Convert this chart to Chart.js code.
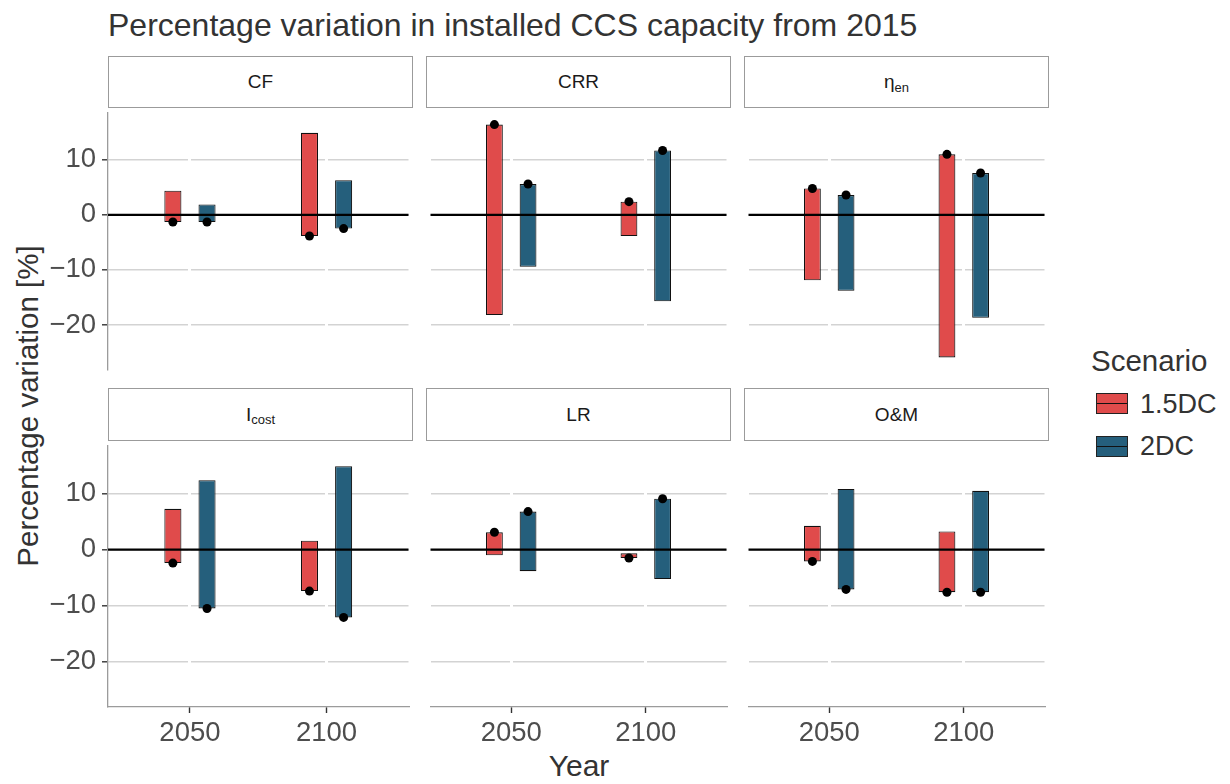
<!DOCTYPE html>
<html>
<head>
<meta charset="utf-8">
<script src="https://cdn.jsdelivr.net/npm/chart.js@4.4.1/dist/chart.umd.min.js"></script>
<style>
  html, body { margin: 0; padding: 0; background: #ffffff; }
  body { font-family: "Liberation Sans", Arial, sans-serif; }
  #wrap { position: relative; width: 1230px; height: 784px; overflow: hidden; background: #ffffff; }
  .txt { position: absolute; line-height: 1; white-space: nowrap; }
  .strip { position: absolute; box-sizing: border-box; border: 1.3px solid #9b9b9b; background: #fff;
           display: flex; align-items: center; justify-content: center; font-size: 19px; color: #1a1a1a; }
  .strip .sb { font-size: 13px; position: relative; top: 5px; }
  canvas { position: absolute; }
  .key { position: absolute; box-sizing: border-box; border: 1.3px solid #222; }
  .key::after { content: ""; position: absolute; left: 0; right: 0; top: 50%; height: 1.5px; margin-top: -0.75px; background: #111; }
</style>
</head>
<body>
<div id="wrap"></div>
<script>
// ---------------- data ----------------
const years = ['2050', '2100'];
const scenarios = ['1.5DC', '2DC'];
const facetNames = ['CF', 'CRR', 'η<span class="sb">en</span>', 'I<span class="sb">cost</span>', 'LR', 'O&amp;M'];
// [facet][year] lower / upper end of the bar
const low15  = [[-1.3, -3.85], [-18.2, -3.85], [-11.9, -25.9], [-2.4, -7.4], [-1.0, -1.5], [-2.1, -7.6]];
const high15 = [[4.4, 14.9],   [16.4, 2.4],    [4.8, 11.0],    [7.3, 1.6],   [3.1, -0.65], [4.25, 3.25]];
const low2   = [[-1.3, -2.5],  [-9.45, -15.7], [-13.8, -18.7], [-10.5, -12.1], [-3.85, -5.25], [-7.1, -7.6]];
const high2  = [[1.9, 6.3],    [5.6, 11.7],    [3.6, 7.6],     [12.4, 14.9],  [6.8, 9.1],     [10.85, 10.5]];
// [facet][year] reference point
const point15 = [[-1.3, -3.85], [16.4, 2.4], [4.8, 11.0], [-2.4, -7.4], [3.1, -1.5], [-2.1, -7.6]];
const point2  = [[-1.3, -2.5],  [5.6, 11.7], [3.6, 7.6],  [-10.5, -12.1], [6.8, 9.1], [-7.1, -7.6]];
const yTicks = [-20, -10, 0, 10];
const yMin = -28.1, yMax = 18.6;

// ---------------- style / layout ----------------
const RED = '#E04B4B', BLUE = '#255F7C';
const FONT = "'Liberation Sans', Arial, sans-serif";
const colLeft = [108, 426, 744];
const panelW = 305, panelH = 266;
const rowTop = [108, 441];
const stripTop = [56, 388], stripH = 52;
const yAxisW = 72, xAxisH = 52;
const dodge = 0.125;

Chart.defaults.font.family = FONT;
Chart.defaults.animation = false;

const wrap = document.getElementById('wrap');
function addText(html, x, y, size, color, opts = {}) {
  const d = document.createElement('div');
  d.className = 'txt';
  d.innerHTML = html;
  d.style.fontSize = size + 'px';
  d.style.color = color;
  d.style.left = x + 'px';
  d.style.top = y + 'px';
  d.style.transform = opts.transform || 'translate(0,-50%)';
  wrap.appendChild(d);
  return d;
}

// title & axis titles
addText('Percentage variation in installed CCS capacity from 2015', 108, 25, 32, '#333');
addText('Year', 579, 766, 30, '#333', { transform: 'translate(-50%,-50%)' });
addText('Percentage variation [%]', 28, 406, 29.5, '#333', { transform: 'translate(-50%,-50%) rotate(-90deg)' });

// legend
addText('Scenario', 1091, 361, 29.5, '#333');
[[RED, 393, 404], [BLUE, 436, 446]].forEach((k, j) => {
  const b = document.createElement('div');
  b.className = 'key';
  b.style.left = '1096px'; b.style.top = k[1] + 'px';
  b.style.width = '32px'; b.style.height = '21px';
  b.style.background = k[0];
  wrap.appendChild(b);
  addText(scenarios[j], 1140, k[2], 27, '#333');
});

const zeroLine = {
  id: 'zeroLine',
  beforeDatasetDraw(chart, args) {
    if (chart.data.datasets[args.index].type !== 'scatter') return;
    const y = chart.scales.y.getPixelForValue(0);
    const { left, right } = chart.chartArea;
    const ctx = chart.ctx;
    ctx.save();
    ctx.strokeStyle = '#000';
    ctx.lineWidth = 2.2;
    ctx.beginPath();
    ctx.moveTo(left, y);
    ctx.lineTo(right, y);
    ctx.stroke();
    ctx.restore();
  }
};

facetNames.forEach((name, i) => {
  const col = i % 3, row = Math.floor(i / 3);
  const isLeft = col === 0, isBottom = row === 1;
  const aw = isLeft ? yAxisW : 0;
  const ah = isBottom ? xAxisH : 0;

  // strip
  const s = document.createElement('div');
  s.className = 'strip';
  s.style.left = colLeft[col] + 'px';
  s.style.top = stripTop[row] + 'px';
  s.style.width = panelW + 'px';
  s.style.height = (row === 0 ? stripH : stripH + 1) + 'px';
  s.innerHTML = name;
  wrap.appendChild(s);

  // canvas
  const c = document.createElement('canvas');
  c.width = panelW + aw;
  c.height = panelH + ah;
  c.style.left = (colLeft[col] - aw) + 'px';
  c.style.top = rowTop[row] + 'px';
  c.style.width = c.width + 'px';
  c.style.height = c.height + 'px';
  wrap.appendChild(c);

  const barDs = (label, lo, hi, color, off) => ({
    type: 'bar',
    label,
    data: years.map((yr, k) => ({ x: k + 1 + off, y: [lo[i][k], hi[i][k]] })),
    backgroundColor: color,
    borderColor: '#111111',
    borderWidth: 1.1,
    borderSkipped: false,
    grouped: false,
    categoryPercentage: 1,
    barPercentage: 0.5,
    order: 1
  });

  const pts = [];
  years.forEach((yr, k) => {
    pts.push({ x: k + 1 - dodge, y: point15[i][k] });
    pts.push({ x: k + 1 + dodge, y: point2[i][k] });
  });

  new Chart(c, {
    data: {
      datasets: [
        { type: 'scatter', label: 'points', data: pts, pointRadius: 4.5, pointHoverRadius: 4.5,
          backgroundColor: '#000', borderColor: '#000', borderWidth: 0, order: 0 },
        barDs(scenarios[0], low15, high15, RED, -dodge),
        barDs(scenarios[1], low2, high2, BLUE, dodge)
      ]
    },
    options: {
      responsive: false,
      animation: false,
      events: [],
      layout: { padding: 0 },
      plugins: { legend: { display: false }, tooltip: { enabled: false }, title: { display: false } },
      scales: {
        x: {
          type: 'linear', min: 0.4, max: 2.6, offset: false, bounds: 'ticks',
          afterBuildTicks: sc => { sc.ticks = years.map((yr, k) => ({ value: k + 1 })); },
          afterFit: sc => { sc.height = ah; sc.paddingLeft = 0; sc.paddingRight = 0; },
          grid: { offset: false, color: '#ffffff', lineWidth: 3, drawTicks: isBottom, tickLength: 6,
                  tickColor: '#333333', tickWidth: 1.4, z: -1 },
          border: { display: isBottom, color: '#9b9b9b', width: 1.3 },
          ticks: { display: isBottom, autoSkip: false, maxRotation: 0, padding: 4,
                   color: '#4d4d4d', font: { size: 27.5 },
                   callback: (v) => years[Math.round(v) - 1] || '' }
        },
        y: {
          type: 'linear', min: yMin, max: yMax,
          afterBuildTicks: sc => { sc.ticks = yTicks.map(v => ({ value: v })); },
          afterFit: sc => { sc.width = aw; sc.paddingTop = 0; sc.paddingBottom = 0; },
          grid: { color: '#d3d3d3', lineWidth: 1.6, drawTicks: isLeft, tickLength: 6,
                  tickColor: '#333333', tickWidth: 1.4, z: -2 },
          border: { display: isLeft, color: '#9b9b9b', width: 1.3 },
          ticks: { display: isLeft, padding: 6, color: '#4d4d4d', font: { size: 27.5 },
                   callback: v => (v < 0 ? '\u2212' + Math.abs(v) : String(v)) }
        }
      }
    },
    plugins: [zeroLine]
  });
});
</script>
</body>
</html>
